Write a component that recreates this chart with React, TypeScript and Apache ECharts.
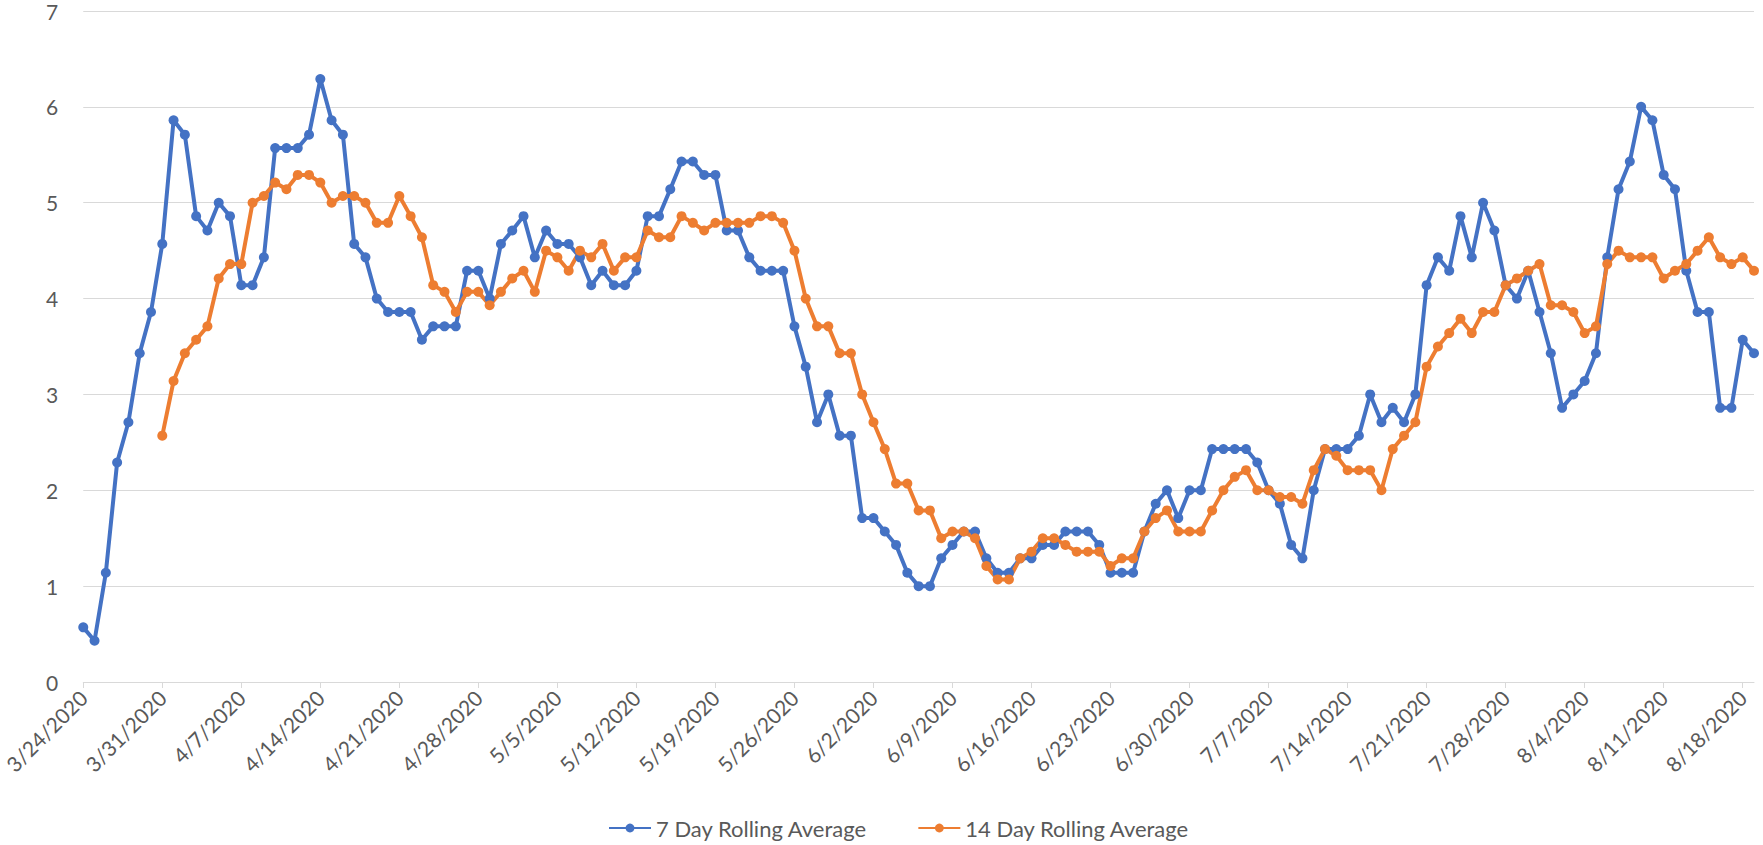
import React, { useEffect, useRef } from "react";
import * as echarts from "echarts";

// Categories: daily dates from 3/24/2020 to 8/19/2020
const START_YEAR = 2020;
const START_MONTH = 2; // March (0-based)
const START_DAY = 24;
const DAY_COUNT = 149;
const dates: string[] = [];
for (let i = 0; i < DAY_COUNT; i++) {
  const d = new Date(Date.UTC(START_YEAR, START_MONTH, START_DAY + i));
  dates.push(`${d.getUTCMonth() + 1}/${d.getUTCDate()}/${d.getUTCFullYear()}`);
}

const seriesNames = ["7 Day Rolling Average", "14 Day Rolling Average"];

const sevenDay: (number | null)[] = [
  0.57, 0.43, 1.14, 2.29, 2.71, 3.43, 3.86, 4.57, 5.86, 5.71,
  4.86, 4.71, 5.0, 4.86, 4.14, 4.14, 4.43, 5.57, 5.57, 5.57,
  5.71, 6.29, 5.86, 5.71, 4.57, 4.43, 4.0, 3.86, 3.86, 3.86,
  3.57, 3.71, 3.71, 3.71, 4.29, 4.29, 4.0, 4.57, 4.71, 4.86,
  4.43, 4.71, 4.57, 4.57, 4.43, 4.14, 4.29, 4.14, 4.14, 4.29,
  4.86, 4.86, 5.14, 5.43, 5.43, 5.29, 5.29, 4.71, 4.71, 4.43,
  4.29, 4.29, 4.29, 3.71, 3.29, 2.71, 3.0, 2.57, 2.57, 1.71,
  1.71, 1.57, 1.43, 1.14, 1.0, 1.0, 1.29, 1.43, 1.57, 1.57,
  1.29, 1.14, 1.14, 1.29, 1.29, 1.43, 1.43, 1.57, 1.57, 1.57,
  1.43, 1.14, 1.14, 1.14, 1.57, 1.86, 2.0, 1.71, 2.0, 2.0,
  2.43, 2.43, 2.43, 2.43, 2.29, 2.0, 1.86, 1.43, 1.29, 2.0,
  2.43, 2.43, 2.43, 2.57, 3.0, 2.71, 2.86, 2.71, 3.0, 4.14,
  4.43, 4.29, 4.86, 4.43, 5.0, 4.71, 4.14, 4.0, 4.29, 3.86,
  3.43, 2.86, 3.0, 3.14, 3.43, 4.43, 5.14, 5.43, 6.0, 5.86,
  5.29, 5.14, 4.29, 3.86, 3.86, 2.86, 2.86, 3.57, 3.43,
];

const fourteenDay: (number | null)[] = [
  null, null, null, null, null, null, null, 2.57, 3.14, 3.43,
  3.57, 3.71, 4.21, 4.36, 4.36, 5.0, 5.07, 5.21, 5.14, 5.29,
  5.29, 5.21, 5.0, 5.07, 5.07, 5.0, 4.79, 4.79, 5.07, 4.86,
  4.64, 4.14, 4.07, 3.86, 4.07, 4.07, 3.93, 4.07, 4.21, 4.29,
  4.07, 4.5, 4.43, 4.29, 4.5, 4.43, 4.57, 4.29, 4.43, 4.43,
  4.71, 4.64, 4.64, 4.86, 4.79, 4.71, 4.79, 4.79, 4.79, 4.79,
  4.86, 4.86, 4.79, 4.5, 4.0, 3.71, 3.71, 3.43, 3.43, 3.0,
  2.71, 2.43, 2.07, 2.07, 1.79, 1.79, 1.5, 1.57, 1.57, 1.5,
  1.21, 1.07, 1.07, 1.29, 1.36, 1.5, 1.5, 1.43, 1.36, 1.36,
  1.36, 1.21, 1.29, 1.29, 1.57, 1.71, 1.79, 1.57, 1.57, 1.57,
  1.79, 2.0, 2.14, 2.21, 2.0, 2.0, 1.93, 1.93, 1.86, 2.21,
  2.43, 2.36, 2.21, 2.21, 2.21, 2.0, 2.43, 2.57, 2.71, 3.29,
  3.5, 3.64, 3.79, 3.64, 3.86, 3.86, 4.14, 4.21, 4.29, 4.36,
  3.93, 3.93, 3.86, 3.64, 3.71, 4.36, 4.5, 4.43, 4.43, 4.43,
  4.21, 4.29, 4.36, 4.5, 4.64, 4.43, 4.36, 4.43, 4.29,
];

const BLUE = "#4472C4";
const ORANGE = "#ED7D31";
const TEXT = "#595959";
const GRID = "#d9d9d9";
const FONT = "Lato, 'Noto Sans', sans-serif";

export default function App() {
  const ref = useRef<HTMLDivElement>(null);
  useEffect(() => {
    if (!ref.current) return;
    const chart = echarts.init(ref.current, undefined, { renderer: "svg" });
    chart.setOption({
      animation: false,
      backgroundColor: "#ffffff",
      textStyle: { fontFamily: FONT },
      grid: { left: 72, right: 9, top: 11, bottom: 163, containLabel: false },
      xAxis: {
        type: "category",
        data: dates,
        boundaryGap: false,
        axisLine: { lineStyle: { color: GRID, width: 1 } },
        axisTick: { interval: 6, length: 6, lineStyle: { color: GRID, width: 1 } },
        axisLabel: {
          interval: 6,
          rotate: 45,
          fontSize: 21,
          color: TEXT,
          fontFamily: FONT,
          margin: 12,
        },
        splitLine: { show: false },
      },
      yAxis: {
        type: "value",
        min: 0,
        max: 7,
        interval: 1,
        axisLine: { show: false },
        axisTick: { show: false },
        axisLabel: {
          fontSize: 21,
          lineHeight: 16,
          color: TEXT,
          fontFamily: FONT,
          margin: 25,
        },
        splitLine: { lineStyle: { color: GRID, width: 1 } },
      },
      legend: {
        left: 603,
        top: 812,
        itemWidth: 42,
        itemHeight: 11,
        itemGap: 50,
        textStyle: { fontSize: 22, color: TEXT, fontFamily: FONT },
        data: seriesNames,
      },
      series: [
        {
          name: seriesNames[0],
          type: "line",
          data: sevenDay,
          symbol: "circle",
          symbolSize: 10,
          showAllSymbol: true,
          lineStyle: { width: 4, color: BLUE },
          itemStyle: { color: BLUE },
        },
        {
          name: seriesNames[1],
          type: "line",
          data: fourteenDay,
          symbol: "circle",
          symbolSize: 10,
          showAllSymbol: true,
          lineStyle: { width: 4, color: ORANGE },
          itemStyle: { color: ORANGE },
        },
      ],
    });
    return () => chart.dispose();
  }, []);
  return (
    <div
      ref={ref}
      style={{ position: "fixed", left: 0, top: 0, width: 1763, height: 845 }}
    />
  );
}
